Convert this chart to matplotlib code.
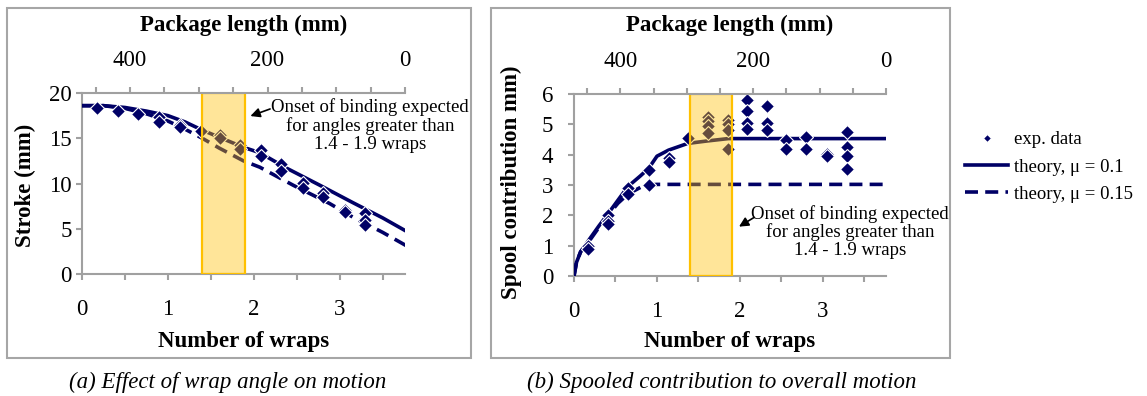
import matplotlib
matplotlib.use('Agg')
import matplotlib.pyplot as plt
from matplotlib.patches import Rectangle
from matplotlib.ticker import MultipleLocator, FixedLocator
import numpy as np

plt.rcParams.update({'font.family': 'Liberation Serif'})

W, H = 1147, 396
NAVY = '#000066'
GRAY = '#A0A0A0'
BAND = '#FFC000'

# ---- data: (a) stroke vs number of wraps
a_exp_wraps = [0.18, 0.42, 0.65, 0.90, 0.90, 1.14, 1.14, 1.38, 1.61, 1.61, 1.84, 1.84,
               2.08, 2.08, 2.32, 2.32, 2.57, 2.57, 2.80, 2.80, 3.06, 3.06, 3.29, 3.29, 3.29]
a_exp_stroke = [18.3, 18.0, 17.7, 17.3, 16.8, 16.5, 16.2, 15.8, 15.4, 15.0, 14.2, 13.8,
                13.7, 13.0, 12.2, 11.4, 10.1, 9.5, 9.0, 8.5, 7.1, 6.9, 6.7, 6.0, 5.4]
a_mu01_wraps = [0, 0.25, 0.5, 0.75, 1.0, 1.2, 1.4, 1.6, 1.88, 2.07, 2.38, 2.77, 3.15, 3.5, 3.78]
a_mu01_stroke = [18.6, 18.6, 18.4, 18.0, 17.5, 16.8, 15.9, 15.1, 14.0, 13.4, 11.7, 9.8, 7.9, 6.2, 4.7]
a_mu015_wraps = [0, 0.25, 0.5, 0.75, 1.0, 1.2, 1.4, 1.6, 1.88, 2.07, 2.46, 2.88, 3.15, 3.5, 3.78]
a_mu015_stroke = [18.6, 18.6, 18.3, 17.7, 16.9, 16.0, 15.0, 13.9, 12.5, 11.8, 9.8, 7.8, 6.3, 4.6, 3.1]

# ---- data: (b) spool contribution vs number of wraps
b_exp_wraps = [0.17, 0.17, 0.41, 0.41, 0.41, 0.65, 0.65, 0.90, 0.90, 1.14, 1.14, 1.37,
               1.61, 1.61, 1.61, 1.61, 1.86, 1.86, 1.86, 1.86, 2.09, 2.09, 2.09, 2.09,
               2.33, 2.33, 2.33, 2.56, 2.56, 2.80, 2.80, 3.05, 3.05, 3.29, 3.29, 3.29, 3.29]
b_exp_spool = [1.0, 0.9, 2.0, 1.8, 1.7, 2.9, 2.7, 3.5, 3.0, 3.9, 3.75, 4.55,
               5.25, 5.1, 4.95, 4.7, 5.15, 5.0, 4.8, 4.2, 5.8, 5.45, 5.05, 4.85,
               5.6, 5.05, 4.8, 4.47, 4.2, 4.57, 4.2, 4.03, 3.95, 4.75, 4.25, 3.97, 3.53]
b_mu01_wraps = [0, 0.03, 0.08, 0.17, 0.3, 0.41, 0.53, 0.65, 0.8, 0.9, 1.0, 1.14, 1.37, 1.6, 1.86, 3.78]
b_mu01_spool = [0, 0.45, 0.8, 1.15, 1.65, 2.05, 2.5, 2.95, 3.3, 3.55, 3.95, 4.15, 4.37, 4.45, 4.53, 4.53]
b_mu015_wraps = [0, 0.03, 0.08, 0.17, 0.3, 0.41, 0.53, 0.65, 0.8, 0.9, 1.0, 3.78]
b_mu015_spool = [0, 0.45, 0.8, 1.1, 1.6, 2.0, 2.4, 2.7, 2.92, 3.0, 3.02, 3.02]

binding_band = (1.4, 1.9)
wraps_max = 3.76
package_max = 470  # mm at zero wraps

note = 'Onset of binding expected\nfor angles greater than\n1.4 - 1.9 wraps'


def fx(x):
    return x / W


def fy(y):
    return 1 - y / H


def style_axes(ax, ymax, ystep):
    ax.set_xlim(0, wraps_max)
    ax.set_ylim(0, ymax)
    for s in ['top', 'right']:
        ax.spines[s].set_visible(False)
    for s in ['left', 'bottom']:
        ax.spines[s].set_color(GRAY)
        ax.spines[s].set_linewidth(1.5)
    ax.xaxis.set_major_locator(FixedLocator(np.arange(0, 3.6, 0.5)))
    ax.set_xticklabels(['0', '', '1', '', '2', '', '3', ''])
    ax.set_yticks(np.arange(0, ymax + ystep / 2, ystep))
    ax.tick_params(colors=GRAY, labelcolor='black', labelsize=16.5, length=4, width=1.5)
    ax.tick_params(axis='x', pad=14)

    top = ax.twiny()
    top.set_xlim(package_max, 0)
    for s in ['left', 'right', 'bottom']:
        top.spines[s].set_visible(False)
    top.spines['top'].set_color(GRAY)
    top.spines['top'].set_linewidth(1.5)
    top.xaxis.set_major_locator(FixedLocator([400, 200, 0]))
    top.xaxis.set_minor_locator(MultipleLocator(50))
    top.tick_params(which='both', colors=GRAY, labelcolor='black', labelsize=16.5,
                    length=4, width=1.5, pad=12)
    return top


def draw_band(ax, ymax):
    ax.add_patch(Rectangle((binding_band[0], 0), binding_band[1] - binding_band[0], ymax,
                           facecolor=(1, 0.753, 0, 0.4), edgecolor=BAND, lw=1.6, zorder=6))


fig = plt.figure(figsize=(W / 100, H / 100), dpi=100)

# panel frames
for x0, x1 in [(7, 471), (491, 950)]:
    fig.add_artist(Rectangle((fx(x0), fy(358)), (x1 - x0) / W, 350 / H, transform=fig.transFigure,
                             fill=False, edgecolor='#A6A6A6', lw=1.5))

dash = (0, (3.6, 2.0))

# ---- (a)
ax1 = fig.add_axes([fx(82), fy(274), 323 / W, 181 / H])
ax1.plot(a_mu01_wraps, a_mu01_stroke, color=NAVY, lw=2.6, zorder=3)
ax1.plot(a_mu015_wraps, a_mu015_stroke, color=NAVY, lw=2.6, ls=dash, zorder=3)
ax1.plot(a_exp_wraps, a_exp_stroke, ls='none', marker='D', ms=7.5, color=NAVY,
         mec='white', mew=0.8, zorder=4)
style_axes(ax1, 20, 5)
draw_band(ax1, 20)
ax1.text(3.35, 16.4, note, ha='center', va='center', fontsize=13.5, linespacing=1.05)
ax1.annotate('', xy=(1.93, 17.35), xytext=(2.22, 18.34),
             arrowprops=dict(arrowstyle='-|>', color='black', lw=1.2, mutation_scale=14))

# ---- (b)
ax2 = fig.add_axes([fx(574), fy(276), 312 / W, 182 / H])
l1, = ax2.plot(b_mu01_wraps, b_mu01_spool, color=NAVY, lw=2.6, zorder=3,
               label='theory, μ = 0.1')
l2, = ax2.plot(b_mu015_wraps, b_mu015_spool, color=NAVY, lw=2.6, ls=dash, zorder=3,
               label='theory, μ = 0.15')
l0, = ax2.plot(b_exp_wraps, b_exp_spool, ls='none', marker='D', ms=7.5, color=NAVY,
               mec='white', mew=0.8, zorder=4, label='exp. data')
style_axes(ax2, 6, 1)
ax2.tick_params(axis='y', pad=11)
draw_band(ax2, 6)
ax2.text(3.325, 1.45, note, ha='center', va='center', fontsize=13.5, linespacing=1.05)
ax2.annotate('', xy=(1.96, 1.58), xytext=(2.2, 1.98),
             arrowprops=dict(arrowstyle='-|>', color='black', lw=1.2, mutation_scale=14))

leg = fig.legend(handles=[l0, l1, l2], loc='upper left', bbox_to_anchor=(fx(965), fy(131)),
                 frameon=False, fontsize=13.5, handlelength=2.3, handletextpad=0.3,
                 labelspacing=0.55, borderpad=0, borderaxespad=0, markerscale=0.6)

# axis titles and captions
for cx in [243.5, 730]:
    fig.text(fx(cx), fy(25), 'Package length (mm)', ha='center', va='center',
             fontsize=16.5, fontweight='bold')
    fig.text(fx(cx), fy(342), 'Number of wraps', ha='center', va='center',
             fontsize=16.5, fontweight='bold')
fig.text(fx(25), fy(185), 'Stroke (mm)', rotation=90, ha='center', va='center',
         fontsize=16.5, fontweight='bold')
fig.text(fx(511), fy(182), 'Spool contribution mm)', rotation=90, ha='center', va='center',
         fontsize=16.5, fontweight='bold')
fig.text(fx(228), fy(382), '(a) Effect of wrap angle on motion', ha='center', va='center',
         fontsize=16.5, style='italic')
fig.text(fx(722), fy(382), '(b) Spooled contribution to overall motion', ha='center',
         va='center', fontsize=16.5, style='italic')

fig.savefig('out.png', dpi=100)
